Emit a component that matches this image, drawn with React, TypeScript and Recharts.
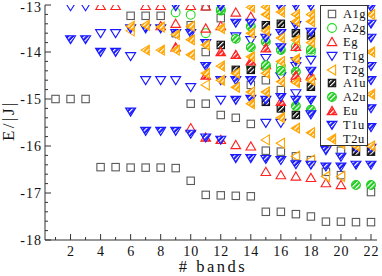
import React from "react";
import { ScatterChart, Scatter, XAxis, YAxis, Legend } from "recharts";

type Pt = [number, number];

const X_TICKS = [1, 2, 3, 4, 5, 6, 7, 8, 9, 10, 11, 12, 13, 14, 15, 16, 17, 18, 19, 20, 21, 22];
const Y_TICKS = [
  -18, -17.8, -17.6, -17.4, -17.2, -17, -16.8, -16.6, -16.4, -16.2, -16, -15.8, -15.6,
  -15.4, -15.2, -15, -14.8, -14.6, -14.4, -14.2, -14, -13.8, -13.6, -13.4, -13.2, -13,
];

// E/|J| levels per number of bands, one list per irrep
const A1G: Pt[] = [
  [1, -15.0], [2, -15.0], [3, -15.0], [4, -16.45], [5, -16.45],
  [6, -13.23], [6, -16.46], [7, -13.23], [7, -16.46], [8, -13.23], [8, -16.46],
  [9, -13.6], [9, -16.47], [10, -13.43], [10, -15.1], [10, -16.74],
  [11, -13.03], [11, -14.0], [11, -15.1], [11, -17.04], [12, -13.28], [12, -15.34], [12, -17.05],
  [13, -15.4], [13, -17.06], [14, -14.7], [14, -15.53], [14, -17.07],
  [15, -14.6], [15, -16.1], [15, -17.4], [16, -14.81], [16, -16.12], [16, -17.4],
  [17, -16.22], [17, -17.45], [18, -16.3], [18, -17.5], [19, -16.55], [19, -17.61],
  [20, -16.1], [20, -16.62], [20, -17.61], [21, -17.62], [22, -16.98], [22, -17.62],
];
const A2G: Pt[] = [
  [9, -13.16], [10, -13.21], [11, -13.6], [12, -13.12], [14, -14.3], [15, -14.32],
  [16, -14.3], [17, -13.89], [18, -14.0],
];
const EG: Pt[] = [
  [4, -13.02], [5, -13.02], [7, -13.02], [8, -13.02], [8, -13.45], [9, -13.4],
  [10, -13.02], [10, -15.62], [11, -13.03], [11, -13.5], [12, -13.45], [13, -13.16], [13, -15.98],
  [14, -13.25], [14, -16.01], [15, -14.28], [15, -16.55], [16, -16.62], [17, -14.55], [17, -16.65],
  [18, -16.68], [19, -16.79], [20, -16.83],
];
const T1G: Pt[] = [
  [2, -13.03], [3, -13.03], [4, -13.6], [5, -13.6], [6, -14.09], [7, -14.6], [8, -14.6],
  [9, -14.6], [10, -14.75], [12, -15.02], [13, -13.67], [14, -13.75], [15, -14.13], [15, -15.51],
  [16, -14.52], [16, -15.51], [17, -14.3], [17, -14.88], [18, -14.17],
];
const T2G: Pt[] = [
  [6, -13.55], [11, -14.7], [15, -15.87], [16, -15.94], [17, -16.22], [18, -16.3],
  [19, -16.65], [20, -16.65],
];
const A1U: Pt[] = [
  [12, -13.85], [13, -14.38], [14, -14.38], [15, -13.43], [15, -15.06], [16, -13.4], [16, -15.2],
  [17, -13.6], [17, -15.34], [18, -13.65], [18, -14.74], [21, -16.12], [22, -16.12],
];
const A2U: Pt[] = [
  [12, -13.1], [13, -13.72], [14, -13.46], [14, -13.9], [15, -13.78], [15, -14.28], [16, -13.96],
  [16, -14.4], [17, -14.42], [17, -15.15], [18, -13.95], [18, -15.23], [21, -16.83], [22, -16.83],
];
const EU: Pt[] = [
  [9, -13.9], [11, -14.5], [11, -15.82], [12, -14.0], [12, -15.87], [13, -14.06], [14, -14.2],
  [15, -13.92], [16, -15.06], [17, -13.89], [17, -14.5], [18, -14.5],
];
const T1U: Pt[] = [
  [2, -13.73], [3, -13.73], [4, -14.0], [5, -14.0], [6, -13.5], [6, -15.27], [7, -13.5], [7, -15.68],
  [8, -13.5], [8, -15.68], [9, -13.03], [9, -13.6], [9, -15.68], [10, -13.6], [10, -15.74],
  [11, -13.81], [11, -14.3], [11, -15.82], [12, -13.03], [12, -14.6], [12, -15.87],
  [13, -13.38], [13, -14.6], [13, -15.02], [13, -16.26], [14, -13.38], [14, -14.6], [14, -15.0], [14, -16.26],
  [15, -13.7], [15, -15.02], [15, -16.28], [16, -13.06], [16, -13.6], [16, -13.9], [16, -14.96], [16, -16.3],
  [17, -13.02], [17, -13.43], [17, -14.2], [17, -15.02], [17, -16.39],
  [18, -13.02], [18, -13.57], [18, -14.4], [18, -15.02], [18, -15.33], [18, -16.4],
  [19, -16.09], [19, -16.44], [20, -16.23], [20, -16.44], [21, -16.04], [21, -16.4],
  [22, -13.05], [22, -13.4], [22, -13.7], [22, -14.3], [22, -14.6], [22, -15.2], [22, -15.6],
  [22, -16.04], [22, -16.4],
];
const T2U: Pt[] = [
  [6, -13.45], [7, -13.43], [7, -13.96], [8, -13.47], [8, -13.96], [9, -13.63], [9, -13.96],
  [10, -13.45], [10, -13.74], [10, -14.06], [11, -13.85], [11, -14.45], [12, -13.5], [12, -14.3], [12, -14.6],
  [13, -14.45], [13, -14.75], [14, -13.05], [14, -13.6], [14, -14.1], [14, -14.85], [14, -15.1],
  [15, -13.04], [15, -13.2], [15, -13.55], [15, -14.45], [15, -14.85],
  [16, -13.15], [16, -13.7], [16, -14.2], [16, -14.63], [16, -15.4],
  [17, -13.2], [17, -13.35], [17, -13.75], [17, -14.15], [17, -14.65], [17, -15.62],
  [18, -13.2], [18, -13.35], [18, -13.8], [18, -14.6], [18, -15.72],
  [19, -15.9], [20, -15.95], [21, -16.0], [22, -13.2], [22, -14.0], [22, -14.9], [22, -16.0],
];

type Kind = "square" | "circle" | "up" | "down" | "left";

const SERIES: { name: string; data: Pt[]; kind: Kind; color: string; hatched: boolean }[] = [
  { name: "A1g", data: A1G, kind: "square", color: "#5a5a5a", hatched: false },
  { name: "A2g", data: A2G, kind: "circle", color: "#22dd22", hatched: false },
  { name: "Eg", data: EG, kind: "up", color: "#ff2020", hatched: false },
  { name: "T1g", data: T1G, kind: "down", color: "#1a1aff", hatched: false },
  { name: "T2g", data: T2G, kind: "left", color: "#ffa500", hatched: false },
  { name: "A1u", data: A1U, kind: "square", color: "#111111", hatched: true },
  { name: "A2u", data: A2U, kind: "circle", color: "#22cc22", hatched: true },
  { name: "Eu", data: EU, kind: "up", color: "#ff2020", hatched: true },
  { name: "T1u", data: T1U, kind: "down", color: "#1a1aff", hatched: true },
  { name: "T2u", data: T2U, kind: "left", color: "#ffa500", hatched: true },
];

const FRAME = "#333";
const SERIF = "'Liberation Serif', 'DejaVu Serif', serif";

function Marker({ cx, cy, kind, color, hatched, name }: any) {
  const style = {
    fill: hatched ? `url(#hatch-${name})` : "none",
    stroke: color,
    strokeWidth: 1.1,
  };
  switch (kind) {
    case "square":
      return <rect x={cx - 3.7} y={cy - 3.7} width={7.4} height={7.4} {...style} />;
    case "circle":
      return <circle cx={cx} cy={cy} r={4.4} {...style} />;
    case "up":
      return <polygon points={`${cx},${cy - 4.6} ${cx + 4.8},${cy + 3.6} ${cx - 4.8},${cy + 3.6}`} {...style} />;
    case "down":
      return <polygon points={`${cx - 5},${cy - 3.6} ${cx + 5},${cy - 3.6} ${cx},${cy + 4.4}`} {...style} />;
    default:
      return <polygon points={`${cx - 4.6},${cy} ${cx + 3.6},${cy - 5} ${cx + 3.6},${cy + 5}`} {...style} />;
  }
}

const tickText = { fontFamily: SERIF, fontSize: 14, letterSpacing: 1, fill: "#111" };

const BottomTick = ({ x, y, payload }: any) => {
  const major = payload.value % 2 === 0;
  return (
    <g>
      <line x1={x} y1={y} x2={x} y2={y - (major ? 6 : 3)} stroke={FRAME} />
      {major && (
        <text x={x + 0.5} y={y + 15.5} textAnchor="middle" style={tickText}>
          {payload.value}
        </text>
      )}
    </g>
  );
};

const TopTick = ({ x, y, payload }: any) => (
  <line x1={x} y1={y} x2={x} y2={y + (payload.value % 2 === 0 ? 6 : 3)} stroke={FRAME} />
);

const LeftTick = ({ x, y, payload }: any) => {
  const major = Number.isInteger(payload.value);
  return (
    <g>
      <line x1={x} y1={y} x2={x + (major ? 6 : 3)} y2={y} stroke={FRAME} />
      {major && (
        <text x={x - 3} y={Math.max(y + 5, 12)} textAnchor="end" style={tickText}>
          {payload.value}
        </text>
      )}
    </g>
  );
};

const RightTick = ({ x, y, payload }: any) => (
  <line x1={x} y1={y} x2={x - (Number.isInteger(payload.value) ? 6 : 3)} y2={y} stroke={FRAME} />
);

const YLabel = ({ viewBox }: any) => {
  const cx = viewBox.x + 14;
  const cy = viewBox.y + viewBox.height / 2 - 2;
  return (
    <text
      x={cx}
      y={cy}
      transform={`rotate(-90, ${cx}, ${cy})`}
      textAnchor="middle"
      style={{ fontFamily: SERIF, fontSize: 17, letterSpacing: 2.5, fill: "#111" }}
    >
      E/|J|
    </text>
  );
};

const XLabel = ({ viewBox }: any) => (
  <text
    x={viewBox.x + viewBox.width / 2 + 2}
    y={viewBox.y + 32}
    textAnchor="middle"
    style={{ fontFamily: SERIF, fontSize: 16.5, letterSpacing: 2.5, fill: "#111" }}
  >
    # bands
  </text>
);

function LegendBox() {
  return (
    <div
      style={{
        position: "relative",
        width: 48,
        height: 141,
        border: `1px solid ${FRAME}`,
        background: "#fff",
        boxSizing: "border-box",
      }}
    >
      {SERIES.map((s, i) => {
        const top = 8.3 + i * 13.8;
        return (
          <React.Fragment key={s.name}>
            <svg width={14} height={14} style={{ position: "absolute", left: 3.5, top: top - 7 }}>
              <Marker cx={7} cy={7} {...s} />
            </svg>
            <span
              style={{
                position: "absolute",
                left: 22,
                top: top - 8,
                lineHeight: "16px",
                fontFamily: SERIF,
                fontSize: 12.5,
                letterSpacing: 0.5,
                color: "#111",
                whiteSpace: "nowrap",
              }}
            >
              {s.name}
            </span>
          </React.Fragment>
        );
      })}
    </div>
  );
}

export default function App() {
  return (
    <div style={{ position: "absolute", left: 0, top: 0, width: 382, height: 276, background: "#fff" }}>
      <svg width={0} height={0} style={{ position: "absolute" }}>
        <defs>
          {SERIES.filter((s) => s.hatched).map((s) => (
            <pattern
              key={s.name}
              id={`hatch-${s.name}`}
              patternUnits="userSpaceOnUse"
              width={3.4}
              height={3.4}
              patternTransform="rotate(45)"
            >
              <rect width={3.4} height={3.4} fill={s.color} />
              <line x1={0.6} y1={0} x2={0.6} y2={3.4} stroke="#fff" strokeWidth={1.2} />
            </pattern>
          ))}
        </defs>
      </svg>
      <ScatterChart width={382} height={276} margin={{ top: 5, right: 5, bottom: 0, left: 0 }}>
        <XAxis
          xAxisId="b"
          dataKey="x"
          type="number"
          domain={[0.3, 22.4]}
          allowDataOverflow
          ticks={X_TICKS}
          interval={0}
          height={36}
          tickSize={0}
          tickMargin={0}
          tickLine={false}
          tick={<BottomTick />}
          axisLine={{ stroke: FRAME }}
          label={<XLabel />}
        />
        <XAxis
          xAxisId="t"
          orientation="top"
          dataKey="x"
          type="number"
          domain={[0.3, 22.4]}
          allowDataOverflow
          ticks={X_TICKS}
          interval={0}
          height={0}
          tickSize={0}
          tickMargin={0}
          tickLine={false}
          tick={<TopTick />}
          axisLine={{ stroke: FRAME }}
        />
        <YAxis
          yAxisId="l"
          dataKey="y"
          type="number"
          domain={[-18, -13]}
          allowDataOverflow
          ticks={Y_TICKS}
          interval={0}
          width={45}
          tickSize={0}
          tickMargin={0}
          tickLine={false}
          tick={<LeftTick />}
          axisLine={{ stroke: FRAME }}
          label={<YLabel />}
        />
        <YAxis
          yAxisId="r"
          orientation="right"
          dataKey="y"
          type="number"
          domain={[-18, -13]}
          allowDataOverflow
          ticks={Y_TICKS}
          interval={0}
          width={0}
          tickSize={0}
          tickMargin={0}
          tickLine={false}
          tick={<RightTick />}
          axisLine={{ stroke: FRAME }}
        />
        <Scatter
          xAxisId="t"
          yAxisId="r"
          data={[{ x: 1, y: -15 }]}
          shape={() => <g />}
          legendType="none"
          isAnimationActive={false}
        />
        {SERIES.map((s) => (
          <Scatter
            key={s.name}
            name={s.name}
            xAxisId="b"
            yAxisId="l"
            data={s.data.map(([x, y]) => ({ x, y }))}
            shape={(p: any) => <Marker cx={p.cx} cy={p.cy} {...s} />}
            isAnimationActive={false}
          />
        ))}
        <Legend
          layout="vertical"
          align="center"
          verticalAlign="middle"
          content={() => <LegendBox />}
          wrapperStyle={{ left: 320, top: 5, width: 48, height: 141, margin: 0, padding: 0 }}
        />
      </ScatterChart>
    </div>
  );
}
